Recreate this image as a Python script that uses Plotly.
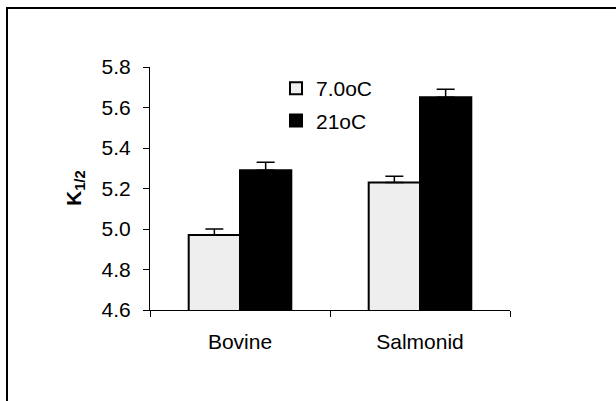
import plotly.graph_objects as go

categories = ["Bovine", "Salmonid"]
series_names = ["7.0oC", "21oC"]
values_7c = [4.97, 5.23]
values_21c = [5.29, 5.65]
err_7c = [0.03, 0.03]
err_21c = [0.04, 0.04]
y_ticks = [4.6, 4.8, 5.0, 5.2, 5.4, 5.6, 5.8]
y_tick_labels = ["4.6", "4.8", "5.0", "5.2", "5.4", "5.6", "5.8"]

FONT = "Arial, 'Liberation Sans', sans-serif"
FS = 21
W, H = 616, 401
L, R, T, B = 150, 106, 67, 91
PW, PH = W - L - R, H - T - B


def px_x(p):
    return (p - L) / PW


def px_y(p):
    return (H - B - p) / PH


fig = go.Figure()
fig.add_trace(go.Bar(
    x=categories, y=values_7c, name=series_names[0], legendgroup="a",
    marker=dict(color="#eeeeee", line=dict(color="black", width=2)),
    error_y=dict(type="data", array=err_7c, arrayminus=[0, 0], symmetric=False,
                 color="black", thickness=1.5, width=9),
))
fig.add_trace(go.Bar(
    x=categories, y=values_21c, name=series_names[1], legendgroup="b",
    marker=dict(color="black", line=dict(color="black", width=2)),
    error_y=dict(type="data", array=err_21c, arrayminus=[0, 0], symmetric=False,
                 color="black", thickness=1.5, width=9),
))

fig.update_layout(
    width=W, height=H,
    margin=dict(l=L, r=R, t=T, b=B, pad=0),
    paper_bgcolor="white", plot_bgcolor="white",
    font=dict(family=FONT, size=FS, color="black"),
    barmode="group", bargap=0.43, bargroupgap=0,
    showlegend=True,
    legend=dict(x=px_x(276), y=px_y(68), xanchor="left", yanchor="top",
                traceorder="grouped", tracegroupgap=2,
                bgcolor="rgba(0,0,0,0)", font=dict(size=FS, family=FONT)),
    xaxis=dict(showline=True, linecolor="black", linewidth=1,
               ticks="outside", ticklen=6, tickcolor="black", tickwidth=1,
               tickson="boundaries", ticklabelstandoff=13,
               showgrid=False, zeroline=False, fixedrange=True),
    yaxis=dict(range=[4.6, 5.8], tickvals=y_ticks, ticktext=y_tick_labels,
               showline=True, linecolor="black", linewidth=1,
               ticks="outside", ticklen=6, tickcolor="black", tickwidth=1,
               ticklabelstandoff=8,
               showgrid=False, zeroline=False, fixedrange=True),
    annotations=[dict(
        text="<b>K<sub>1/2</sub></b>", xref="paper", yref="paper",
        x=px_x(75), y=px_y(188), xanchor="center", yanchor="middle",
        textangle=-90, showarrow=False, font=dict(size=FS, family=FONT),
    )],
    shapes=[dict(
        type="rect", xref="paper", yref="paper",
        x0=px_x(7), x1=px_x(630), y0=px_y(420), y1=px_y(8),
        line=dict(color="black", width=2), fillcolor="rgba(0,0,0,0)", layer="below",
    )],
)

fig.write_html("out.html")
